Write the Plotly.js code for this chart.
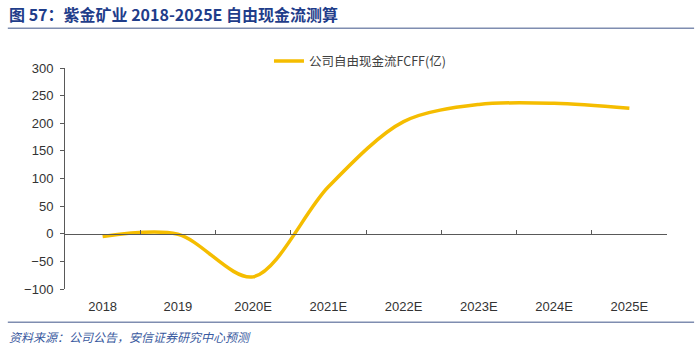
<!DOCTYPE html>
<html>
<head>
<meta charset="utf-8">
<script src="https://cdn.plot.ly/plotly-3.0.1.min.js"></script>
<style>
html,body{margin:0;padding:0;background:#fff;}
#chart{width:700px;height:353px;}
</style>
</head>
<body>
<div id="chart"></div>
<script>
const years = ["2018", "2019", "2020E", "2021E", "2022E", "2023E", "2024E", "2025E"];
const fcff = [-5, -1, -78, 85, 203, 234, 236, 227];
const seriesName = "公司自由现金流FCFF(亿)";
const yTicks = [-100, -50, 0, 50, 100, 150, 200, 250, 300];

const titleText = "图 57：紫金矿业 2018-2025E 自由现金流测算";
const sourceText = "资料来源：公司公告，安信证券研究中心预测";

const traces = [
  {
    x: years,
    y: fcff,
    type: "scatter",
    mode: "lines",
    name: seriesName,
    line: {color: "#F5BD00", width: 3.5, shape: "spline", smoothing: 0.9},
    showlegend: true
  },
  {
    x: years,
    y: fcff,
    xaxis: "x2",
    yaxis: "y",
    type: "scatter",
    mode: "none",
    showlegend: false,
    hoverinfo: "skip"
  }
];

const layout = {
  width: 700,
  height: 353,
  margin: {l: 65, r: 33, t: 68, b: 64},
  paper_bgcolor: "#ffffff",
  plot_bgcolor: "#ffffff",
  font: {family: "Liberation Sans, Arial, sans-serif", color: "#333333", size: 13},
  showlegend: true,
  legend: {
    orientation: "h",
    x: 0.49, xanchor: "center",
    y: 1.03, yanchor: "middle",
    itemwidth: 30,
    font: {family: "Noto Sans CJK SC, sans-serif", size: 12.5, color: "#404040"},
    bgcolor: "rgba(0,0,0,0)"
  },
  xaxis: {
    type: "category",
    categoryarray: years,
    range: [-0.5, 7.5],
    showline: false,
    showgrid: false,
    zeroline: false,
    ticks: "",
    ticklabelstandoff: 8,
    tickfont: {size: 13, color: "#333333"}
  },
  xaxis2: {
    type: "category",
    categoryarray: years,
    overlaying: "x",
    anchor: "free",
    position: 0.25,
    range: [-0.5, 7.5],
    showline: true,
    linecolor: "#595959",
    linewidth: 1,
    showgrid: false,
    zeroline: false,
    showticklabels: false,
    ticks: "inside",
    tickson: "boundaries",
    ticklen: 4,
    tickcolor: "#595959",
    tickwidth: 1
  },
  yaxis: {
    range: [-100, 300],
    tickvals: yTicks,
    showline: true,
    linecolor: "#595959",
    linewidth: 1,
    ticks: "outside",
    ticklen: 4,
    tickcolor: "#595959",
    showgrid: false,
    zeroline: false,
    ticklabelstandoff: 4,
    tickfont: {size: 13, color: "#333333"}
  },
  shapes: [
    {type: "line", xref: "paper", yref: "paper", x0: -0.095, x1: 1.045, y0: 1.18, y1: 1.18,
     line: {color: "#7F8DB0", width: 1.5}},
    {type: "line", xref: "paper", yref: "paper", x0: -0.095, x1: 1.045, y0: -0.15, y1: -0.15,
     line: {color: "#7F8DB0", width: 1.5}}
  ],
  annotations: [
    {text: "<b>" + titleText + "</b>", xref: "paper", yref: "paper",
     x: -0.097, y: 1.245, xanchor: "left", yanchor: "middle", showarrow: false,
     font: {family: "Noto Sans CJK SC, sans-serif", size: 16, color: "#1F3D8A"}},
    {text: "<i>" + sourceText + "</i>", xref: "paper", yref: "paper",
     x: -0.097, y: -0.215, xanchor: "left", yanchor: "middle", showarrow: false,
     font: {family: "Noto Sans CJK SC, sans-serif", size: 12, color: "#3A5AA0"}}
  ]
};

Plotly.newPlot("chart", traces, layout, {displayModeBar: false, staticPlot: true});
</script>
</body>
</html>
